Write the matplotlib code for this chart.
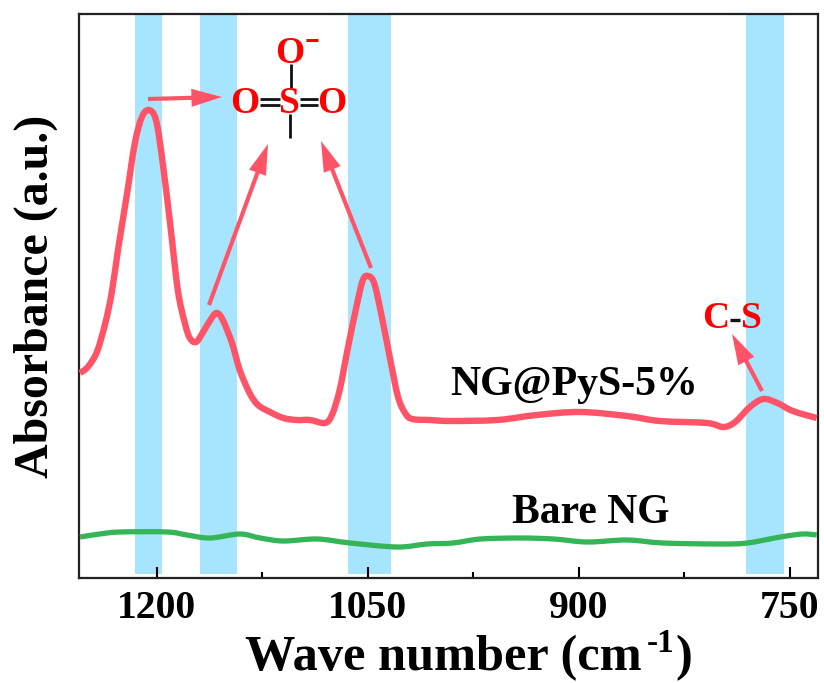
# -*- coding: UTF-8 -*-
import matplotlib
matplotlib.use('Agg')
import matplotlib.pyplot as plt
from matplotlib.lines import Line2D
from matplotlib.patches import PathPatch
from matplotlib.path import Path
from matplotlib.ticker import MultipleLocator

plt.rcParams['font.family'] = ['Liberation Serif', 'DejaVu Serif']
plt.rcParams['font.weight'] = 'bold'

# values
wn_ngpys = [1254.5, 1249, 1242.5, 1236.5, 1232, 1227.5, 1221, 1215.5, 1210.5, 1205.5, 1200.5,
            1196, 1190.5, 1185, 1180, 1176.5, 1172, 1167, 1160.5, 1157, 1153,
            1146.5, 1141, 1134, 1128, 1119.5, 1110, 1100.5, 1091, 1080.5, 1075.5,
            1070, 1064, 1057.5, 1053.5, 1050, 1045.5, 1040, 1034, 1028.5, 1023.5,
            1018.5, 1006, 991.5, 958, 930, 899, 866, 842.5, 809, 797.5,
            789, 778.5, 769, 759, 748, 731]
abs_ngpys = [205, 211, 226, 255, 285, 328, 385, 435, 461, 468, 458,
             418, 355, 288, 255, 240, 236, 246, 261, 265, 258,
             235, 208, 185, 173, 166, 160, 158, 158, 155, 163,
             188, 231, 275, 298, 302, 295, 261, 218, 181, 165,
             159, 158, 157, 158, 163, 166, 162, 157, 155, 151,
             156, 171, 179, 175, 167, 160]
wn_bare = [1254.5, 1240.5, 1226, 1192.5, 1178.5, 1162, 1141, 1126.5, 1110, 1086,
           1062.5, 1029, 1008, 989.5, 970, 942, 918, 894, 866, 840,
           800, 780.5, 757, 741, 731]
abs_bare = [41, 44, 46, 46, 43, 40, 44, 40, 37, 39,
            35, 31, 34, 35, 39, 40, 39, 36, 38, 35,
            34, 35, 41, 44, 43]
bands = [(1215.5, 1196), (1169, 1143), (1064, 1033.5), (781, 754.5)]
x_ticks = [1200, 1050, 900, 750]

fig = plt.figure(figsize=(8.24, 6.83), dpi=100)
ax = fig.add_axes([79 / 824, 1 - 578 / 683, 739 / 824, 564 / 683])


def px(x, y):
    return x / 824, 1 - y / 683


def label(x, y, s, size, color='black', ha='center'):
    fx, fy = px(x, y)
    fig.text(fx, fy, s, fontsize=size, color=color, fontweight='bold', ha=ha, va='baseline')


def arrow(x0, y0, x1, y1):
    ax.annotate('', xy=px(x1, y1), xytext=px(x0, y0),
                xycoords='figure fraction', textcoords='figure fraction',
                arrowprops=dict(arrowstyle='simple,head_length=22,head_width=13,tail_width=3',
                                mutation_scale=1, shrinkA=0, shrinkB=0,
                                color='#ff5468', lw=0), zorder=5)


def bond(x0, y0, x1, y1, lw=2.0, color='#111111'):
    a, b = px(x0, y0)
    c, d = px(x1, y1)
    fig.add_artist(Line2D([a, c], [b, d], color=color, lw=lw, solid_capstyle='butt'))


def smooth_line(xs, ys, color, lw):
    # bezier through the read points, so the thick line has no corners
    pts = list(zip(xs, ys))
    verts = [pts[0]]
    codes = [Path.MOVETO]
    for i in range(len(pts) - 1):
        p0 = pts[max(i - 1, 0)]
        p1 = pts[i]
        p2 = pts[i + 1]
        p3 = pts[min(i + 2, len(pts) - 1)]
        verts.append((p1[0] + (p2[0] - p0[0]) / 6, p1[1] + (p2[1] - p0[1]) / 6))
        verts.append((p2[0] - (p3[0] - p1[0]) / 6, p2[1] - (p3[1] - p1[1]) / 6))
        verts.append(p2)
        codes += [Path.CURVE4] * 3
    ax.add_patch(PathPatch(Path(verts, codes), fill=False, edgecolor=color, lw=lw,
                           joinstyle='round', capstyle='butt', zorder=3))


for left, right in bands:
    ax.axvspan(left, right, ymin=0.007, ymax=1, color='#a6e5fd', lw=0, zorder=0)

smooth_line(wn_ngpys, abs_ngpys, '#ff5468', 4.6)
smooth_line(wn_bare, abs_bare, '#36b558', 3.8)

ax.set_xlim(1255.2, 730.1)
ax.set_ylim(0, 564)
ax.set_yticks([])
ax.set_xticks(x_ticks)
ax.xaxis.set_minor_locator(MultipleLocator(75))
ax.tick_params(axis='x', which='major', direction='in', length=8, width=1.5, labelsize=28.5, pad=9)
ax.tick_params(axis='x', which='minor', direction='in', length=4, width=1.5)
for spine in ax.spines.values():
    spine.set_linewidth(1.6)
    spine.set_color('#222222')
ax.set_ylabel('Absorbance (a.u.)', fontsize=34.5, fontweight='bold', labelpad=0)
ax.yaxis.set_label_coords(-0.028, 0.5)

# x label, pieces so the exponent keeps its plain hyphen
label(245, 670, 'Wave number (cm', 36.3, ha='left')
label(647, 652, '-1', 24, ha='left')
label(675, 670, ')', 36.3, ha='left')

# molecule
label(290, 63, 'O', 27, 'red')
label(245, 113, 'O', 27, 'red')
label(289, 113, 'S', 27, 'red')
label(332, 113, 'O', 27, 'red')
bond(306, 40, 318, 40, lw=2.2, color='red')
bond(291, 64, 291, 88)
bond(260, 99, 280, 99)
bond(260, 105, 280, 105)
bond(300, 99, 318, 99)
bond(300, 105, 318, 105)
bond(290, 114, 290, 138)

# C-S
label(716, 328, 'C', 27, 'red')
bond(730, 320, 740, 320, lw=2.4)
label(751, 328, 'S', 27, 'red')

label(574.5, 395, 'NG@PyS-5%', 30.2)
label(590.5, 523, 'Bare NG', 30)

arrow(148, 99, 222, 97)
arrow(209, 305, 268, 144)
arrow(371, 268, 321, 141)
arrow(762, 391, 732, 334)

plt.savefig('out.png', dpi=100)
